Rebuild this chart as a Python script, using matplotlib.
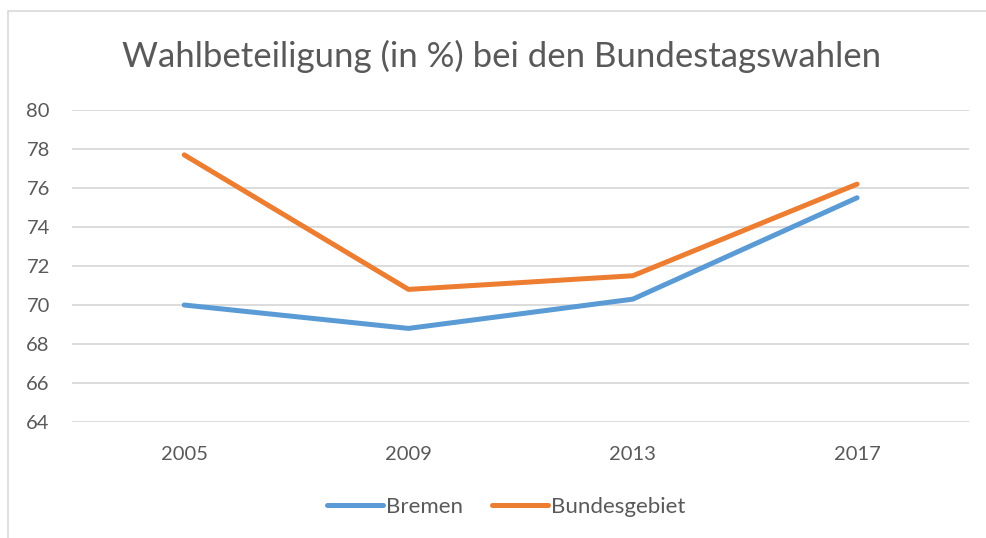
import matplotlib.pyplot as plt
from matplotlib.patches import Rectangle

# Turnout data
years = ["2005", "2009", "2013", "2017"]
bremen = [70.0, 68.8, 70.3, 75.5]
bundesgebiet = [77.7, 70.8, 71.5, 76.2]
y_ticks = [64, 66, 68, 70, 72, 74, 76, 78, 80]

text_color = "#595959"
grid_color = "#D9D9D9"
plt.rcParams['font.family'] = ['Lato', 'DejaVu Sans']

fig = plt.figure(figsize=(9.87, 5.38), dpi=100)
ax = fig.add_axes([0.073, 0.2156, 0.909, 0.5799])

x = range(len(years))
ax.plot(x, bremen, color="#5B9BD5", linewidth=3.6, solid_capstyle="round",
        solid_joinstyle="round", label="Bremen")
ax.plot(x, bundesgebiet, color="#ED7D31", linewidth=3.6, solid_capstyle="round",
        solid_joinstyle="round", label="Bundesgebiet")

ax.set_xlim(-0.5, len(years) - 0.5)
ax.set_ylim(64, 80)
ax.set_xticks(list(x))
ax.set_xticklabels(years)
ax.set_yticks(y_ticks)
ax.tick_params(axis="both", length=0, labelsize=14.5, colors=text_color)
ax.tick_params(axis="x", pad=17)
ax.tick_params(axis="y", pad=16)
ax.grid(axis="y", color=grid_color, linewidth=1.3)
ax.set_axisbelow(True)
for side in ax.spines.values():
    side.set_visible(False)

fig.text(0.508, 0.895, "Wahlbeteiligung (in %) bei den Bundestagswahlen",
         ha="center", va="center", fontsize=25, color=text_color)

leg = fig.legend(loc="center", bbox_to_anchor=(0.513, 0.058), ncol=2, frameon=False,
                 fontsize=16, handlelength=2.5, handletextpad=0.15, columnspacing=1.3)
for t in leg.get_texts():
    t.set_color(text_color)

# Chart border (left and top edges visible)
fig.patches.append(Rectangle((8 / 987, -0.05), 1.1, (538 - 11) / 538 + 0.05,
                             transform=fig.transFigure, fill=False,
                             edgecolor=grid_color, linewidth=1.2))

fig.savefig("out.png", dpi=100)
